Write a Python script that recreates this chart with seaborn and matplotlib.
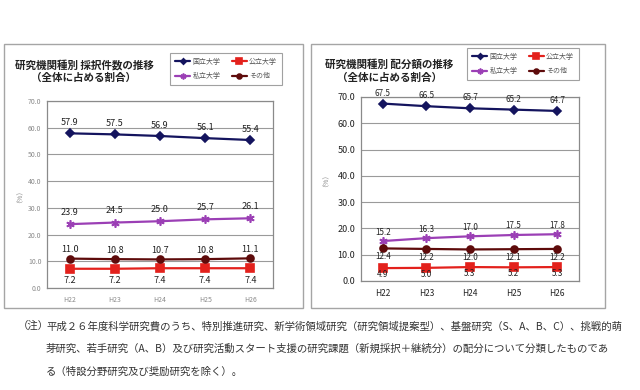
import pandas as pd
import matplotlib
matplotlib.use("Agg")
import matplotlib.pyplot as plt
from matplotlib.patches import Rectangle
from matplotlib.ticker import FixedLocator
import seaborn as sns

years = ["H22", "H23", "H24", "H25", "H26"]
series = ["国立大学", "公立大学", "私立大学", "その他"]

# 採択件数の割合 (%)
adopt_national = [57.9, 57.5, 56.9, 56.1, 55.4]
adopt_public = [7.2, 7.2, 7.4, 7.4, 7.4]
adopt_private = [23.9, 24.5, 25.0, 25.7, 26.1]
adopt_other = [11.0, 10.8, 10.7, 10.8, 11.1]

# 配分額の割合 (%)
alloc_national = [67.5, 66.5, 65.7, 65.2, 64.7]
alloc_public = [4.9, 5.0, 5.3, 5.2, 5.3]
alloc_private = [15.2, 16.3, 17.0, 17.5, 17.8]
alloc_other = [12.4, 12.2, 12.0, 12.1, 12.2]

yticks = [0, 10, 20, 30, 40, 50, 60, 70]

titles = [
    "研究機関種別 採択件数の推移\n（全体に占める割合）",
    "研究機関種別 配分額の推移\n（全体に占める割合）",
]

note_lines = [
    "平成２６年度科学研究費のうち、特別推進研究、新学術領域研究（研究領域提案型）、基盤研究（S、A、B、C）、挑戦的萌",
    "芽研究、若手研究（A、B）及び研究活動スタート支援の研究課題（新規採択＋継続分）の配分について分類したものであ",
    "る（特設分野研究及び奨励研究を除く）。",
]

colors = {"国立大学": "#14145e", "公立大学": "#e3211c", "私立大学": "#9b3fb5", "その他": "#5e0b0b"}
markers = {"国立大学": "D", "公立大学": "s", "私立大学": (6, 2, 0), "その他": "o"}
sizes = {"国立大学": 4, "公立大学": 6, "私立大学": 6, "その他": 5}

sns.set_style("white")
plt.rcParams["font.family"] = ["Noto Sans CJK JP", "DejaVu Sans"]


def make_df(nat, pub, pri, oth):
    rows = []
    for name, vals in zip(series, [nat, pub, pri, oth]):
        for y, v in zip(years, vals):
            rows.append({"年度": y, "割合": v, "機関": name})
    return pd.DataFrame(rows)


def draw_panel(ax, df, offsets, tick_color, tick_size, xtick_size, label_size):
    for name in series:
        sub = df[df["機関"] == name]
        sns.lineplot(data=sub, x="年度", y="割合", ax=ax, color=colors[name],
                     marker=markers[name], markersize=sizes[name],
                     markeredgecolor=colors[name], markeredgewidth=1.2,
                     linewidth=1.6, label=name, legend=False)
        for i, v in enumerate(sub["割合"]):
            ax.annotate(f"{v:.1f}", (i, v), xytext=(0, offsets[name]),
                        textcoords="offset points", ha="center", va="center",
                        fontsize=label_size, color="#222222")
    ax.set_xlim(-0.5, 4.5)
    ax.set_ylim(0, 70)
    ax.set_yticks(yticks)
    ax.set_yticklabels([f"{t:.1f}" for t in yticks])
    ax.yaxis.grid(True, color="#9a9a9a", linewidth=0.8)
    ax.set_axisbelow(True)
    ax.xaxis.set_minor_locator(FixedLocator([-0.5, 0.5, 1.5, 2.5, 3.5, 4.5]))
    ax.tick_params(axis="x", which="major", length=0, pad=6,
                   labelsize=xtick_size, labelcolor=tick_color)
    ax.tick_params(axis="x", which="minor", length=3, direction="out", color="#888888", width=0.8)
    ax.tick_params(axis="y", length=0, pad=4, labelsize=tick_size, labelcolor=tick_color)
    for s in ax.spines.values():
        s.set_color("#8a8a8a")
        s.set_linewidth(0.9)
    ax.set_xlabel("")
    ax.set_ylabel("")


fig = plt.figure(figsize=(6.4, 3.9), dpi=100)
W, H = 640, 390


def fx(px):
    return px / W


def fy(py):
    return 1 - py / H


# panel frames
for x0, x1 in [(4, 303), (311, 605)]:
    fig.patches.append(Rectangle((fx(x0), fy(308)), fx(x1 - x0), (308 - 44) / H,
                                 transform=fig.transFigure, fill=False,
                                 edgecolor="#a5a5a5", linewidth=1.0))

ax1 = fig.add_axes([fx(47), fy(288), fx(273 - 47), (288 - 101) / H])
ax2 = fig.add_axes([fx(361), fy(281), fx(579 - 361), (281 - 97) / H])

draw_panel(ax1, make_df(adopt_national, adopt_public, adopt_private, adopt_other),
           {"国立大学": 7.5, "公立大学": -8.5, "私立大学": 8.5, "その他": 6.5},
           "#8a8a8a", 5, 5, 6.5)
draw_panel(ax2, make_df(alloc_national, alloc_public, alloc_private, alloc_other),
           {"国立大学": 7.5, "公立大学": -4.5, "私立大学": 6.5, "その他": -6.0},
           "#222222", 6.5, 6, 5.8)

# titles
fig.text(fx(84), fy(71), titles[0], ha="center", va="center", fontsize=7.6,
         fontweight="bold", color="#222222", linespacing=1.3)
fig.text(fx(389), fy(71), titles[1], ha="center", va="center", fontsize=7.6,
         fontweight="bold", color="#222222", linespacing=1.3)

# legends (column-wise fill -> rows: 国立/公立, 私立/その他)
order = ["国立大学", "私立大学", "公立大学", "その他"]
for ax, cx, cy in [(ax1, 226, 69), (ax2, 523, 64)]:
    h, l = ax.get_legend_handles_labels()
    hd = dict(zip(l, h))
    leg = ax.legend([hd[k] for k in order], order, ncol=2, loc="center",
                    bbox_to_anchor=(fx(cx), fy(cy)),
                    bbox_transform=fig.transFigure, fontsize=5, frameon=True,
                    fancybox=False, handlelength=2.2, handletextpad=0.3,
                    columnspacing=1.6, labelspacing=0.9, borderpad=0.7,
                    markerscale=0.7)
    leg.get_frame().set_edgecolor("#8a8a8a")
    leg.get_frame().set_linewidth(0.8)
    for t in leg.get_texts():
        t.set_color("#555555")

# y axis label
fig.text(fx(16), fy(193), "（%）", rotation=90, ha="center", va="center",
         fontsize=5, color="#8a8a8a")
fig.text(fx(322), fy(177), "（%）", rotation=90, ha="center", va="center",
         fontsize=5, color="#8a8a8a")

# note
fig.text(fx(18), fy(326), "（注）", ha="left", va="center", fontsize=7.5, color="#333333")
for i, line in enumerate(note_lines):
    fig.text(fx(46), fy(326 + 23 * i), line, ha="left", va="center",
             fontsize=7.5, color="#333333")

fig.savefig("out.png", dpi=100)
